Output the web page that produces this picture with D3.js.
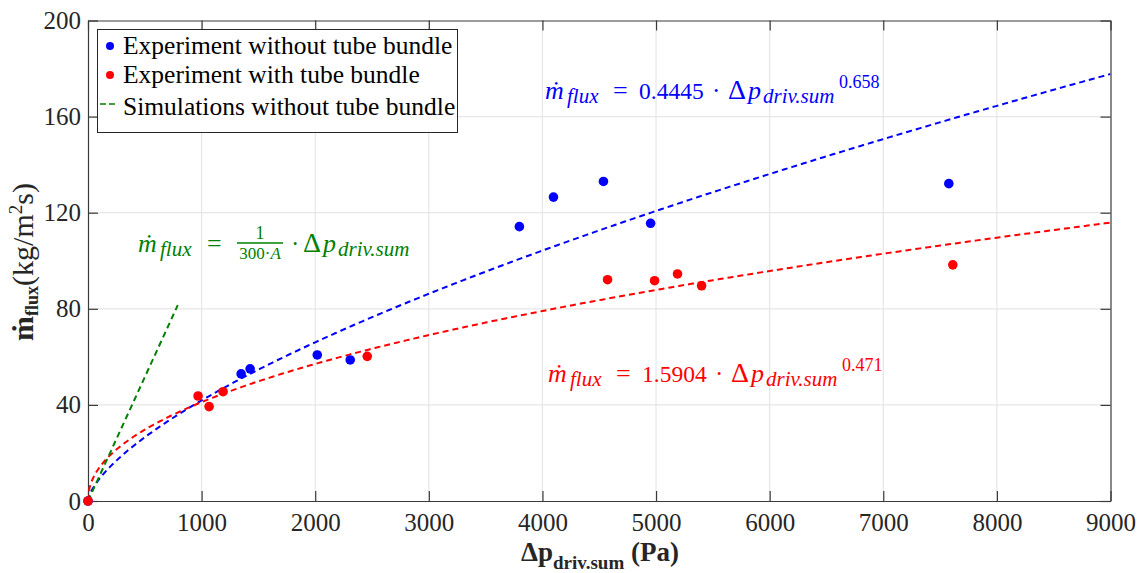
<!DOCTYPE html>
<html lang="en">
<head>
  <meta charset="UTF-8">
  <title>Mass flux vs driving pressure</title>
  <script src="https://d3js.org/d3.v7.min.js"></script>
  <style>
    body { margin: 0; background: #fff; }
    svg text { font-family: "Liberation Serif", "DejaVu Serif", serif; }
  </style>
</head>
<body>
  <div id="chart"></div>

  <script>
    // measured data
    const noBundleX = [0, 1348, 1427, 2018, 2308, 3797, 4097, 4537, 4952, 7577];
    const noBundleY = [0, 52.9, 55.0, 60.8, 58.7, 114.2, 126.5, 133.0, 115.6, 132.1];
    const bundleX = [0, 969, 1066, 1189, 2458, 4573, 4987, 5189, 5401, 7612];
    const bundleY = [0, 43.7, 39.3, 45.5, 60.2, 92.1, 91.7, 94.5, 89.6, 98.3];
    // simulations (linear)
    const simX = [0, 790];
    const simY = [0, 81.5];
    // fit coefficients  y = a * x^b
    const fitBlue = [0.4445, 0.658];
    const fitRed = [1.5904, 0.471];

    const xTicks = [0, 1000, 2000, 3000, 4000, 5000, 6000, 7000, 8000, 9000];
    const yTicks = [0, 40, 80, 120, 160, 200];

    const serif = "'Liberation Serif', 'DejaVu Serif', serif";

    const W = 1141, H = 573;
    const margin = {top: 20.5, right: 30.5, bottom: 72, left: 88};
    const width = W - margin.left - margin.right,
          height = H - margin.top - margin.bottom;

    const svgRoot = d3.select("#chart").append("svg")
      .attr("width", W).attr("height", H)
      .attr("font-family", serif);
    const svg = svgRoot.append("g")
      .attr("transform", `translate(${margin.left},${margin.top})`);

    const x = d3.scaleLinear().domain([0, 9000]).range([0, width]);
    const y = d3.scaleLinear().domain([0, 200]).range([height, 0]);

    // grid
    svg.append("g").selectAll("line").data(xTicks.slice(1, -1)).join("line")
      .attr("x1", d => x(d)).attr("x2", d => x(d))
      .attr("y1", 0).attr("y2", height)
      .attr("stroke", "#e6e6e6").attr("stroke-width", 1.2);
    svg.append("g").selectAll("line").data(yTicks.slice(1, -1)).join("line")
      .attr("y1", d => y(d)).attr("y2", d => y(d))
      .attr("x1", 0).attr("x2", width)
      .attr("stroke", "#e6e6e6").attr("stroke-width", 1.2);

    // axes (box with inward ticks)
    const tickLen = 10;
    const axColor = "#3a3a3a";
    svg.append("g").attr("transform", `translate(0,${height})`)
      .call(d3.axisBottom(x).tickValues(xTicks).tickSizeInner(-tickLen).tickSizeOuter(0).tickPadding(12).tickFormat(d3.format("d")));
    svg.append("g")
      .call(d3.axisTop(x).tickValues(xTicks).tickSizeInner(-tickLen).tickSizeOuter(0).tickFormat(""));
    svg.append("g")
      .call(d3.axisLeft(y).tickValues(yTicks).tickSizeInner(-tickLen).tickSizeOuter(0).tickPadding(7));
    svg.append("g").attr("transform", `translate(${width},0)`)
      .call(d3.axisRight(y).tickValues(yTicks).tickSizeInner(-tickLen).tickSizeOuter(0).tickFormat(""));
    svg.selectAll(".domain").attr("stroke", axColor).attr("stroke-width", 1.2);
    svg.selectAll(".tick line").attr("stroke", axColor).attr("stroke-width", 1.2);
    svg.selectAll("g").attr("font-family", serif);
    svg.selectAll(".tick text")
      .attr("font-family", serif)
      .attr("font-size", 25).attr("fill", "#262626");

    // fit curves
    svg.append("clipPath").attr("id", "clip")
      .append("rect").attr("width", width).attr("height", height);
    const plot = svg.append("g").attr("clip-path", "url(#clip)");

    const xs = d3.range(0, 50, 1).concat(d3.range(50, 9001, 25));
    const line = d3.line().x(d => x(d[0])).y(d => y(d[1]));

    plot.append("path")
      .attr("d", line(xs.map(v => [v, fitBlue[0] * Math.pow(v, fitBlue[1])])))
      .attr("fill", "none").attr("stroke", "#0000ff").attr("stroke-width", 2)
      .attr("stroke-dasharray", "6,4");
    plot.append("path")
      .attr("d", line(xs.map(v => [v, fitRed[0] * Math.pow(v, fitRed[1])])))
      .attr("fill", "none").attr("stroke", "#ff0000").attr("stroke-width", 2)
      .attr("stroke-dasharray", "6,4");
    plot.append("path")
      .attr("d", line(simX.map((v, i) => [v, simY[i]])))
      .attr("fill", "none").attr("stroke", "#008000").attr("stroke-width", 2)
      .attr("stroke-dasharray", "6,4");

    // points
    svg.append("g").selectAll("circle").data(noBundleX).join("circle")
      .attr("cx", d => x(d)).attr("cy", (d, i) => y(noBundleY[i]))
      .attr("r", 4.8).attr("fill", "#0000ff");
    svg.append("g").selectAll("circle").data(bundleX).join("circle")
      .attr("cx", d => x(d)).attr("cy", (d, i) => y(bundleY[i]))
      .attr("r", 4.8).attr("fill", "#ff0000");

    // equations: pieces placed with offsets from the start of the formula
    function piece(g, px, py, txt, size, italic) {
      return g.append("text").attr("x", px).attr("y", py)
        .attr("font-size", size).attr("font-style", italic ? "italic" : "normal")
        .attr("font-family", serif).text(txt);
    }
    function powerEq(px, py, color, fit) {
      const g = svgRoot.append("g").attr("fill", color);
      piece(g, px, py, "ṁ", 26, true);
      piece(g, px + 22, py + 4, "flux", 21, true);
      piece(g, px + 68, py, "=", 26, false);
      piece(g, px + 94, py, fit[0].toFixed(4), 23.5, false);
      piece(g, px + 167, py, "·", 25, false);
      piece(g, px + 183, py, "Δ", 28, false);
      piece(g, px + 203, py, "p", 26, true);
      piece(g, px + 218, py + 4, "driv.sum", 21, true);
      piece(g, px + 294, py - 11, fit[1].toFixed(3), 18, false);
    }
    powerEq(545, 99, "#0000ff", fitBlue);
    powerEq(548, 382, "#ff0000", fitRed);

    const gEq = svgRoot.append("g").attr("fill", "#008000");
    piece(gEq, 138, 252, "ṁ", 26, true);
    piece(gEq, 160, 256, "flux", 21, true);
    piece(gEq, 207, 252, "=", 26, false);
    piece(gEq, 260, 238.5, "1", 18, false).attr("text-anchor", "middle");
    gEq.append("line").attr("x1", 237).attr("x2", 283)
      .attr("y1", 243).attr("y2", 243).attr("stroke", "#008000").attr("stroke-width", 1.5);
    const den = piece(gEq, 260, 259, "300·", 17, false).attr("text-anchor", "middle");
    den.append("tspan").attr("font-style", "italic").text("A");
    piece(gEq, 291, 252, "·", 25, false);
    piece(gEq, 303, 252, "Δ", 28, false);
    piece(gEq, 323, 252, "p", 26, true);
    piece(gEq, 338, 256, "driv.sum", 21, true);

    // axis labels
    const xl = svgRoot.append("text").attr("x", 600).attr("y", 561)
      .attr("text-anchor", "middle").attr("font-weight", "bold")
      .attr("fill", "#262626").attr("font-size", 27);
    xl.append("tspan").text("Δp");
    xl.append("tspan").attr("dy", 8).attr("font-size", 19).text("driv.sum");
    xl.append("tspan").attr("dy", -8).text(" (Pa)");

    const yl = svgRoot.append("text")
      .attr("transform", "translate(33,262) rotate(-90)")
      .attr("text-anchor", "middle")
      .attr("fill", "#262626").attr("font-size", 30);
    yl.append("tspan").attr("font-weight", "bold").text("ṁ");
    yl.append("tspan").attr("dy", 5).attr("font-size", 18).attr("font-weight", "bold").text("flux");
    yl.append("tspan").attr("dy", -5).text("(kg/m");
    yl.append("tspan").attr("dy", -11).attr("font-size", 19).text("2");
    yl.append("tspan").attr("dy", 11).text("s)");

    // legend
    const lg = svgRoot.append("g");
    lg.append("rect").attr("x", 97.5).attr("y", 29.5).attr("width", 360).attr("height", 103)
      .attr("fill", "#fff").attr("stroke", "#262626").attr("stroke-width", 1);
    const items = [
      {label: "Experiment without tube bundle", color: "#0000ff", type: "dot", yb: 54},
      {label: "Experiment with tube bundle", color: "#ff0000", type: "dot", yb: 83},
      {label: "Simulations without tube bundle", color: "#008000", type: "dash", yb: 115}
    ];
    items.forEach(it => {
      if (it.type === "dot") {
        lg.append("circle").attr("cx", 110).attr("cy", it.yb - 8).attr("r", 4)
          .attr("fill", it.color);
      } else {
        lg.append("line").attr("x1", 100).attr("x2", 117)
          .attr("y1", it.yb - 11).attr("y2", it.yb - 11)
          .attr("stroke", it.color).attr("stroke-width", 1.5).attr("stroke-dasharray", "6,3");
      }
      lg.append("text").attr("x", 123).attr("y", it.yb)
        .attr("fill", "#000").attr("font-size", 25.5).text(it.label);
    });
  </script>
</body>
</html>
